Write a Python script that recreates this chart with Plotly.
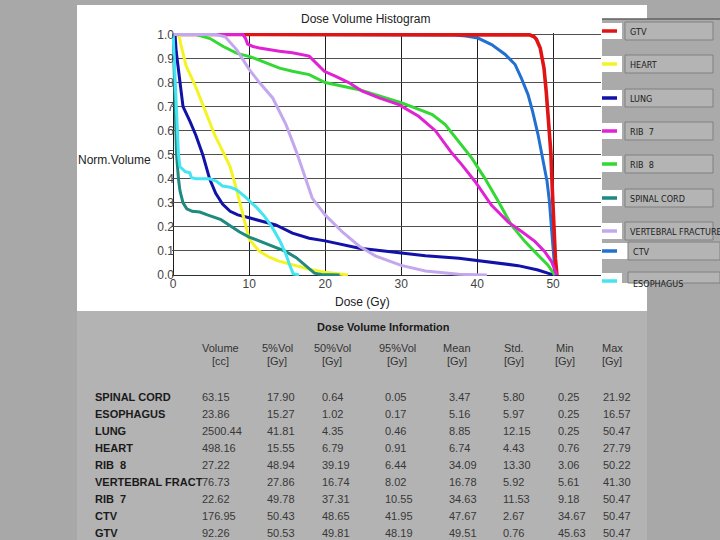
import plotly.graph_objects as go

# ---------------- DVH curve data (dose in Gy, normalised volume) ----------------
gtv_dose = [0, 45.6, 46.9, 47.5, 47.8, 48.3, 48.8, 49.1, 49.4, 49.7, 49.9, 50.1, 50.3, 50.5]
gtv_vol = [1.0, 1.0, 0.998, 0.99, 0.98, 0.944, 0.86, 0.76, 0.65, 0.51, 0.35, 0.18, 0.07, 0.0]

heart_dose = [0, 0.76, 1.0, 1.7, 3.0, 4.35, 5.5, 6.6, 7.5, 8.3, 8.8, 9.3, 10.0, 11.3, 12.6, 13.7, 15.7, 17.9, 20.0, 22.3, 23.0]
heart_vol = [1.0, 1.0, 0.96, 0.87, 0.78, 0.67, 0.58, 0.51, 0.45, 0.36, 0.30, 0.24, 0.15, 0.10, 0.075, 0.06, 0.042, 0.024, 0.012, 0.003, 0.0]

lung_dose = [0, 0.25, 0.4, 0.8, 1.3, 2.2, 3.0, 3.9, 4.8, 5.6, 6.5, 7.5, 8.5, 10.0, 11.5, 13.5, 15.7, 17.9, 20.0, 22.3, 24.5, 26.6, 30.0, 33.2, 37.6, 40.0, 42.8, 45.4, 48.0, 49.8, 50.5]
lung_vol = [1.0, 1.0, 0.93, 0.82, 0.70, 0.64, 0.58, 0.50, 0.40, 0.34, 0.295, 0.265, 0.25, 0.238, 0.225, 0.208, 0.174, 0.153, 0.142, 0.125, 0.111, 0.104, 0.09, 0.08, 0.07, 0.061, 0.049, 0.039, 0.021, 0.003, 0.0]

rib7_dose = [0, 9.18, 9.5, 9.8, 10.5, 11.35, 14.0, 15.7, 17.9, 19.0, 19.9, 21.4, 23.1, 24.9, 27.1, 29.7, 32.3, 34.5, 36.5, 38.0, 39.7, 41.9, 44.1, 45.9, 47.6, 48.9, 49.8, 50.47]
rib7_vol = [1.0, 1.0, 0.985, 0.96, 0.95, 0.944, 0.93, 0.924, 0.91, 0.875, 0.847, 0.826, 0.80, 0.764, 0.736, 0.708, 0.66, 0.60, 0.514, 0.458, 0.39, 0.29, 0.22, 0.18, 0.14, 0.097, 0.056, 0.0]

rib8_dose = [0, 3.06, 4.86, 6.6, 8.4, 10.2, 11.9, 14.0, 15.7, 17.9, 20.0, 22.3, 24.5, 26.6, 28.8, 30.1, 31.9, 34.1, 35.8, 37.6, 39.3, 41.0, 42.8, 44.5, 46.3, 48.0, 49.3, 50.22]
rib8_vol = [1.0, 1.0, 0.983, 0.95, 0.921, 0.907, 0.886, 0.86, 0.847, 0.833, 0.80, 0.785, 0.77, 0.75, 0.73, 0.715, 0.694, 0.667, 0.625, 0.556, 0.486, 0.403, 0.306, 0.208, 0.139, 0.083, 0.042, 0.0]

cord_dose = [0, 0.1, 0.25, 0.45, 0.7, 0.9, 1.3, 1.8, 2.5, 3.5, 4.5, 5.5, 6.3, 7.5, 8.7, 10.0, 11.5, 13.1, 14.8, 16.2, 17.5, 18.6, 19.5, 21.9]
cord_vol = [1.0, 0.9, 0.72, 0.5, 0.40, 0.35, 0.30, 0.275, 0.265, 0.262, 0.25, 0.238, 0.23, 0.205, 0.18, 0.158, 0.14, 0.12, 0.098, 0.072, 0.036, 0.008, 0.002, 0.0]

vert_dose = [0, 5.61, 6.85, 8.4, 10.0, 11.35, 13.1, 14.85, 16.2, 17.25, 18.3, 20.0, 22.3, 24.5, 26.6, 30.0, 33.2, 37.6, 41.3]
vert_vol = [1.0, 1.0, 0.99, 0.935, 0.855, 0.80, 0.736, 0.625, 0.514, 0.417, 0.32, 0.25, 0.178, 0.12, 0.08, 0.04, 0.017, 0.003, 0.0]

ctv_dose = [0, 34.67, 37.0, 38.5, 40.1, 41.9, 43.7, 45.0, 45.8, 46.7, 47.3, 48.0, 48.6, 49.2, 49.5, 49.8, 50.1, 50.3, 50.47]
ctv_vol = [1.0, 1.0, 0.998, 0.993, 0.985, 0.958, 0.917, 0.875, 0.82, 0.75, 0.68, 0.586, 0.486, 0.39, 0.31, 0.18, 0.07, 0.007, 0.0]

eso_dose = [0, 0.2, 0.45, 0.7, 0.9, 1.3, 1.6, 2.2, 2.4, 3.0, 4.8, 5.7, 6.5, 7.5, 8.3, 9.3, 10.0, 11.0, 12.0, 13.0, 14.0, 14.8, 15.3, 15.8, 16.57]
eso_vol = [1.0, 0.85, 0.62, 0.50, 0.45, 0.44, 0.43, 0.425, 0.405, 0.40, 0.40, 0.39, 0.37, 0.365, 0.355, 0.33, 0.31, 0.28, 0.245, 0.20, 0.145, 0.09, 0.045, 0.005, 0.0]

# legend order (as in the reference legend panel)
legend_names = ["GTV", "HEART", "LUNG", "RIB  7", "RIB  8", "SPINAL CORD",
                "VERTEBRAL FRACTURE", "CTV", "ESOPHAGUS"]

# ---------------- table data ----------------
table_title = "Dose Volume Information"
col_head1 = ["Volume", "5%Vol", "50%Vol", "95%Vol", "Mean", "Std.", "Min", "Max"]
col_head2 = ["[cc]", "[Gy]", "[Gy]", "[Gy]", "[Gy]", "[Gy]", "[Gy]", "[Gy]"]
row_names = ["SPINAL CORD", "ESOPHAGUS", "LUNG", "HEART", "RIB  8",
             "VERTEBRAL FRACT", "RIB  7", "CTV", "GTV"]
col_volume = ["63.15", "23.86", "2500.44", "498.16", "27.22", "76.73", "22.62", "176.95", "92.26"]
col_v5 = ["17.90", "15.27", "41.81", "15.55", "48.94", "27.86", "49.78", "50.43", "50.53"]
col_v50 = ["0.64", "1.02", "4.35", "6.79", "39.19", "16.74", "37.31", "48.65", "49.81"]
col_v95 = ["0.05", "0.17", "0.46", "0.91", "6.44", "8.02", "10.55", "41.95", "48.19"]
col_mean = ["3.47", "5.16", "8.85", "6.74", "34.09", "16.78", "34.63", "47.67", "49.51"]
col_std = ["5.80", "5.97", "12.15", "4.43", "13.30", "5.92", "11.53", "2.67", "0.76"]
col_min = ["0.25", "0.25", "0.25", "0.76", "3.06", "5.61", "9.18", "34.67", "45.63"]
col_max = ["21.92", "16.57", "50.47", "27.79", "50.22", "41.30", "50.47", "50.47", "50.47"]

# ---------------- styling ----------------
colors = {
    "GTV": "#e01414", "HEART": "#f4f424", "LUNG": "#1212a8", "RIB  7": "#e022d4",
    "RIB  8": "#34d834", "SPINAL CORD": "#1e8a80", "VERTEBRAL FRACTURE": "#c4a8ee",
    "CTV": "#2270d2", "ESOPHAGUS": "#44e4f2",
}
FONT = "Liberation Sans, Arial, sans-serif"
NARROW = "Liberation Sans Narrow, DejaVu Sans Condensed, Arial Narrow, Liberation Sans, sans-serif"

W, H = 720, 540
L, R, T, B = 172, 119, 33, 264
PW, PH = W - L - R, H - T - B


def px(x):
    return (x - L) / PW


def py(y):
    return (H - B - y) / PH


fig = go.Figure()

curves = [
    ("CTV", ctv_dose, ctv_vol, 3),
    ("GTV", gtv_dose, gtv_vol, 3.6),
    ("LUNG", lung_dose, lung_vol, 3),
    ("RIB  8", rib8_dose, rib8_vol, 3),
    ("RIB  7", rib7_dose, rib7_vol, 3),
    ("HEART", heart_dose, heart_vol, 3),
    ("SPINAL CORD", cord_dose, cord_vol, 3),
    ("ESOPHAGUS", eso_dose, eso_vol, 3),
    ("VERTEBRAL FRACTURE", vert_dose, vert_vol, 3),
]
for name, d, v, wdt in curves:
    fig.add_trace(go.Scatter(x=d, y=v, mode="lines", name=name,
                             line=dict(color=colors[name], width=wdt),
                             showlegend=False, hoverinfo="skip"))

shapes = []
ann = []

# page panels
shapes.append(dict(type="rect", xref="paper", yref="paper", x0=px(77), x1=px(647), y0=py(311), y1=py(5),
                   fillcolor="white", line=dict(width=0), layer="below"))
shapes.append(dict(type="rect", xref="paper", yref="paper", x0=px(77), x1=px(647), y0=py(540), y1=py(311),
                   fillcolor="#b3b3b3", line=dict(width=0), layer="below"))

# legend panel
shapes.append(dict(type="rect", xref="paper", yref="paper", x0=px(602), x1=px(720), y0=py(283), y1=py(19),
                   fillcolor="#aaaaaa", line=dict(width=0), layer="below"))
shapes.append(dict(type="line", xref="paper", yref="paper", x0=px(602), x1=px(720), y0=py(19), y1=py(19),
                   line=dict(color="#606060", width=1.5), layer="below"))
leg_y = [31, 64, 98, 131, 164, 198, 231, 251, 281]
for i, name in enumerate(legend_names):
    c = leg_y[i]
    bx0, bx1 = (628, 720) if name in ("CTV", "ESOPHAGUS") else (625, 713)
    wb1 = 628 if name == "CTV" else 622
    shapes.append(dict(type="rect", xref="paper", yref="paper", x0=px(600), x1=px(wb1), y0=py(c + 8), y1=py(c - 8),
                       fillcolor="white", line=dict(width=0), layer="below"))
    shapes.append(dict(type="line", xref="paper", yref="paper", x0=px(602), x1=px(617), y0=py(c), y1=py(c),
                       line=dict(color=colors[name], width=3.5), layer="below"))
    top = c - 9
    bot = min(c + 9, 283)
    shapes.append(dict(type="rect", xref="paper", yref="paper", x0=px(bx0), x1=px(bx1), y0=py(bot), y1=py(top),
                       fillcolor="#b4b4b4", line=dict(color="#808080", width=1), layer="below"))
    ann.append(dict(xref="paper", yref="paper", x=px(bx0 + 3), y=py(c + 1 if name != "ESOPHAGUS" else c + 3),
                    text=name, showarrow=False, xanchor="left", yanchor="middle",
                    font=dict(family=NARROW, size=9, color="#202020")))

# chart titles
ann.append(dict(xref="paper", yref="paper", x=px(365), y=py(19), text="Dose Volume Histogram",
                showarrow=False, xanchor="center", yanchor="middle",
                font=dict(family=FONT, size=12, color="#222222")))
ann.append(dict(xref="paper", yref="paper", x=px(76), y=py(160), text="Norm.Volume",
                showarrow=False, xanchor="left", yanchor="middle",
                font=dict(family=FONT, size=12, color="#222222")))
ann.append(dict(xref="paper", yref="paper", x=px(362), y=py(302), text="Dose (Gy)",
                showarrow=False, xanchor="center", yanchor="middle",
                font=dict(family=FONT, size=12, color="#222222")))

# table
ann.append(dict(xref="paper", yref="paper", x=px(383), y=py(327), text="<b>" + table_title + "</b>",
                showarrow=False, xanchor="center", yanchor="middle",
                font=dict(family=FONT, size=11, color="#1a1a1a")))
head_x = [220, 277, 332, 397, 457, 514, 565, 612]
for hx, h1, h2 in zip(head_x, col_head1, col_head2):
    ann.append(dict(xref="paper", yref="paper", x=px(hx), y=py(348), text=h1, showarrow=False,
                    xanchor="center", yanchor="middle", font=dict(family=FONT, size=11, color="#333333")))
    ann.append(dict(xref="paper", yref="paper", x=px(hx), y=py(361), text=h2, showarrow=False,
                    xanchor="center", yanchor="middle", font=dict(family=FONT, size=11, color="#333333")))
row_y = [397, 414, 431, 448, 465, 482, 499, 516, 533]
val_x = [200, 265, 320, 383, 447, 501, 556, 601]
columns = [col_volume, col_v5, col_v50, col_v95, col_mean, col_std, col_min, col_max]
for r, rn in enumerate(row_names):
    ann.append(dict(xref="paper", yref="paper", x=px(93), y=py(row_y[r]), text="<b>" + rn + "</b>",
                    showarrow=False, xanchor="left", yanchor="middle",
                    font=dict(family=FONT, size=11, color="#1a1a1a")))
    for cx, col in zip(val_x, columns):
        ann.append(dict(xref="paper", yref="paper", x=px(cx), y=py(row_y[r]), text=col[r],
                        showarrow=False, xanchor="left", yanchor="middle",
                        font=dict(family=FONT, size=11, color="#383838")))

fig.update_layout(
    width=W, height=H,
    margin=dict(l=L, r=R, t=T, b=B, pad=0, autoexpand=False),
    paper_bgcolor="#a8a8a8",
    plot_bgcolor="rgba(0,0,0,0)",
    shapes=shapes,
    annotations=ann,
    showlegend=False,
    xaxis=dict(range=[-0.15, 56.3], tickvals=[0, 10, 20, 30, 40, 50], ticktext=["0", "10", "20", "30", "40", "50"],
               showgrid=True, gridcolor="#1e1e1e", gridwidth=1.2, zeroline=False,
               showline=False, ticks="", automargin=False, ticklabelstandoff=-1,
               tickfont=dict(family=FONT, size=12, color="#444444")),
    yaxis=dict(range=[-0.004, 1.006], tickvals=[i / 10 for i in range(11)],
               ticktext=["%.1f" % (i / 10) for i in range(11)],
               showgrid=True, gridcolor="#505050", gridwidth=1.2, zeroline=True, zerolinecolor="#303030",
               zerolinewidth=1.2, showline=False, ticks="", automargin=False, ticklabelstandoff=-3,
               tickfont=dict(family=FONT, size=12, color="#444444")),
)

fig.write_html("out.html", config={"displayModeBar": False},
               post_script="document.body.style.margin='0px';document.body.style.overflow='hidden';")
